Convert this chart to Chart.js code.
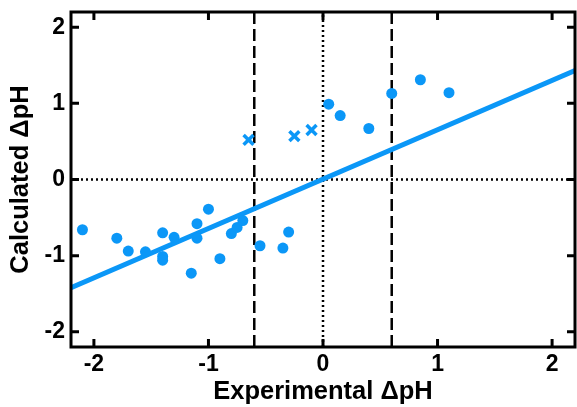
<!DOCTYPE html>
<html>
<head>
<meta charset="utf-8">
<script src="https://cdn.jsdelivr.net/npm/chart.js@4/dist/chart.umd.min.js"></script>
<style>
  body { margin: 0; background: #fff; }
  #wrap { width: 577px; height: 407px; }
</style>
</head>
<body>
<div id="wrap"><canvas id="chart" width="577" height="407"></canvas></div>
<script>
// Axis limits and ticks
const xMin = -2.2, xMax = 2.2;
const yMin = -2.2, yMax = 2.2;
const xTicks = [-2, -1, 0, 1, 2];
const yTicks = [-2, -1, 0, 1, 2];

// Circles (experimental vs calculated)
const dotX = [-2.10, -1.80, -1.70, -1.55, -1.40, -1.40, -1.40, -1.30, -1.15, -1.10, -1.10, -1.00, -0.90,
  -0.80, -0.75, -0.70, -0.55, -0.35, -0.30, 0.05, 0.15, 0.40, 0.60, 0.85, 1.10];
const dotY = [-0.66, -0.77, -0.94, -0.95, -0.70, -1.01, -1.06, -0.76, -1.23, -0.58, -0.77, -0.39, -1.04,
  -0.71, -0.63, -0.54, -0.87, -0.90, -0.69, 0.99, 0.84, 0.67, 1.13, 1.31, 1.14];

// Crosses
const crossX = [-0.65, -0.25, -0.10];
const crossY = [0.52, 0.57, 0.65];

// Fit line end points
const fitX = [-2.2, 2.2];
const fitY = [-1.42, 1.43];

// Reference lines
const dashedX = [-0.6, 0.6];
const dottedX = [0];
const dottedY = [0];

const blue = '#0b97f7';
const font = 'Liberation Sans, Arial, Helvetica, sans-serif';

const pts = (xs, ys) => xs.map((x, i) => ({ x: x, y: ys[i] }));

const refSets = [];
dashedX.forEach(v => refSets.push({
  data: [{ x: v, y: yMin }, { x: v, y: yMax }],
  borderColor: '#000', borderWidth: 2.5, borderDash: [12, 5], pointRadius: 0, showLine: true, order: 5
}));
dottedX.forEach(v => refSets.push({
  data: [{ x: v, y: yMin }, { x: v, y: yMax }],
  borderColor: '#000', borderWidth: 2.5, borderDash: [2, 3], pointRadius: 0, showLine: true, order: 5
}));
dottedY.forEach(v => refSets.push({
  data: [{ x: xMin, y: v }, { x: xMax, y: v }],
  borderColor: '#000', borderWidth: 2.5, borderDash: [2, 3], pointRadius: 0, showLine: true, order: 5
}));

// Frame with inward ticks on all four sides
const framePlugin = {
  id: 'frame',
  afterDatasetsDraw(chart) {
    const { ctx, chartArea: a, scales } = chart;
    const len = 8;
    ctx.save();
    ctx.strokeStyle = '#000';
    ctx.lineWidth = 3;
    ctx.strokeRect(a.left, a.top, a.right - a.left, a.bottom - a.top);
    ctx.beginPath();
    xTicks.forEach(v => {
      const px = scales.x.getPixelForValue(v);
      ctx.moveTo(px, a.bottom); ctx.lineTo(px, a.bottom - len);
      ctx.moveTo(px, a.top); ctx.lineTo(px, a.top + len);
    });
    yTicks.forEach(v => {
      const py = scales.y.getPixelForValue(v);
      ctx.moveTo(a.left, py); ctx.lineTo(a.left + len, py);
      ctx.moveTo(a.right, py); ctx.lineTo(a.right - len, py);
    });
    ctx.stroke();
    ctx.restore();
  }
};

new Chart(document.getElementById('chart'), {
  type: 'scatter',
  data: {
    datasets: [
      { data: pts(dotX, dotY), backgroundColor: blue, borderColor: blue, pointRadius: 5.5, pointBorderWidth: 0, order: 1 },
      { data: pts(crossX, crossY), pointStyle: 'crossRot', borderColor: blue, pointRadius: 7, pointBorderWidth: 3.5, order: 1 },
      { data: pts(fitX, fitY), showLine: true, borderColor: blue, borderWidth: 5, pointRadius: 0, order: 2 },
      ...refSets
    ]
  },
  options: {
    responsive: false,
    animation: false,
    layout: { autoPadding: false, padding: { top: 12, right: 2, left: 0, bottom: 0 } },
    plugins: { legend: { display: false }, tooltip: { enabled: false } },
    scales: {
      x: {
        min: xMin, max: xMax,
        grid: { display: false, drawTicks: false },
        border: { display: false },
        afterBuildTicks: s => { s.ticks = xTicks.map(v => ({ value: v })); },
        afterFit: s => { s.height = 60; s.paddingLeft = 0; s.paddingRight = 0; },
        ticks: { padding: 4, color: '#000', font: { family: font, size: 23, weight: 'bold' } },
        title: { display: true, text: 'Experimental ΔpH', color: '#000', padding: { top: 0, bottom: 0 },
          font: { family: font, size: 25.5, weight: 'bold' } }
      },
      y: {
        min: yMin, max: yMax,
        grid: { display: false, drawTicks: false },
        border: { display: false },
        afterBuildTicks: s => { s.ticks = yTicks.map(v => ({ value: v })); },
        afterFit: s => { s.width = 71; s.paddingTop = 0; s.paddingBottom = 0; },
        ticks: { padding: 6, color: '#000', font: { family: font, size: 23, weight: 'bold' } },
        title: { display: true, text: 'Calculated ΔpH', color: '#000', padding: { top: 6, bottom: 0 },
          font: { family: font, size: 25.5, weight: 'bold' } }
      }
    }
  },
  plugins: [framePlugin]
});
</script>
</body>
</html>
